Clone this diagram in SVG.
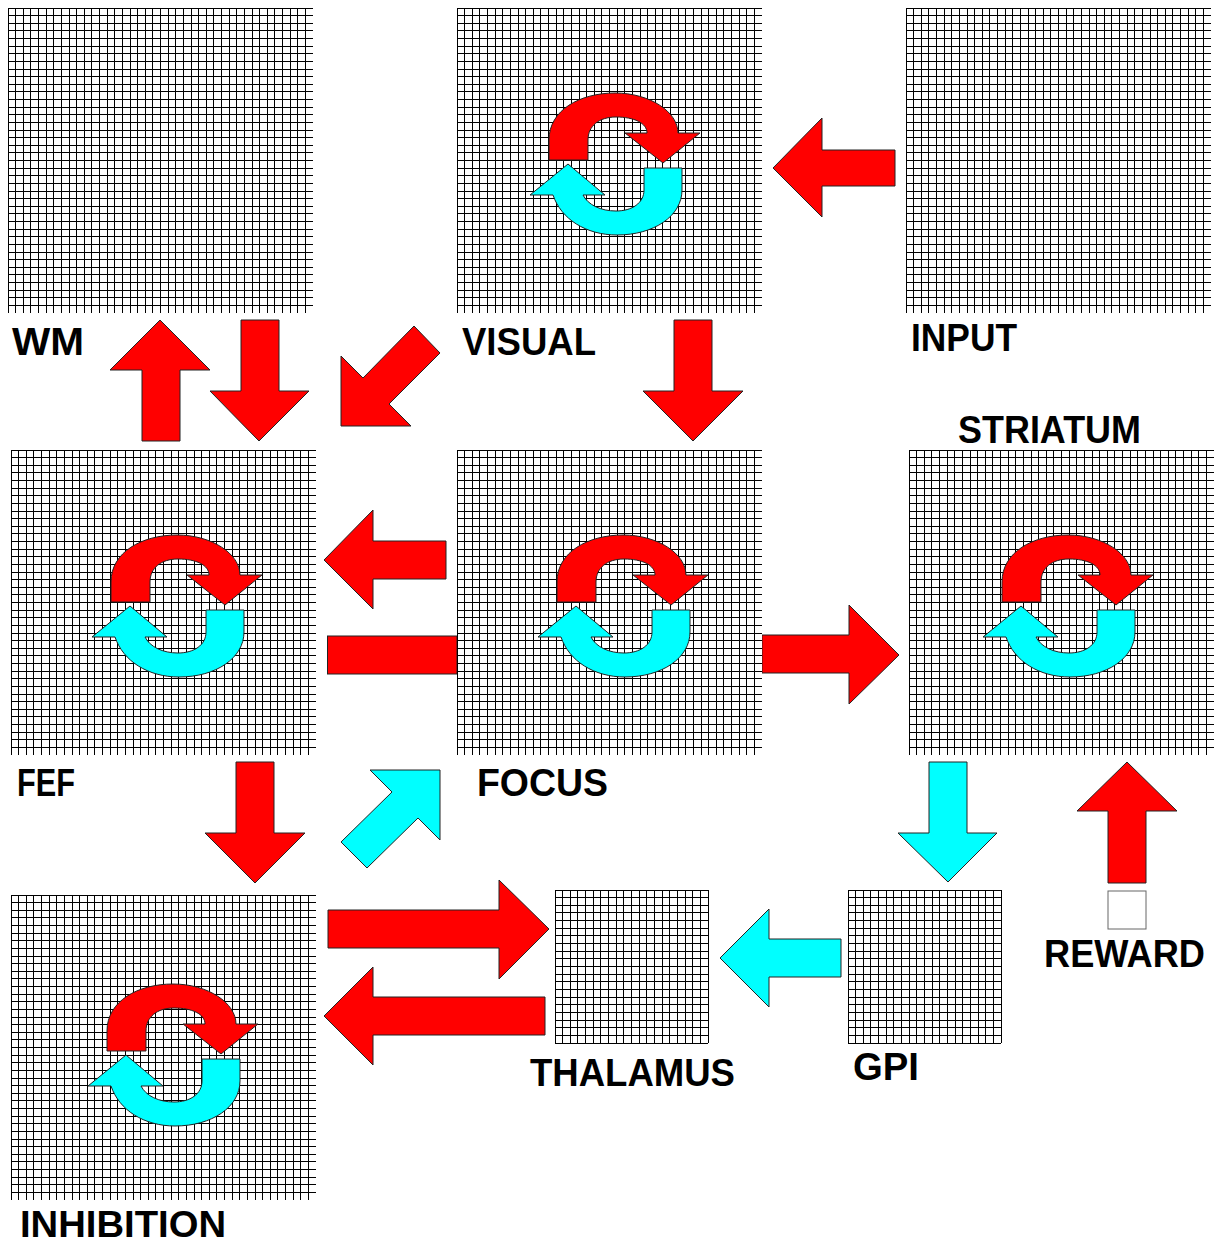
<svg xmlns="http://www.w3.org/2000/svg" xmlns:xlink="http://www.w3.org/1999/xlink" width="1215" height="1245" viewBox="0 0 1215 1245">
<style>
.gl{fill:none;stroke:#000;stroke-width:1;shape-rendering:crispEdges}
.bg{fill:#fff}
.r{fill:#ff0000;stroke:#222;stroke-width:1}
.c{fill:#00ffff;stroke:#222;stroke-width:1}
.lb{font-family:"Liberation Sans",Arial,sans-serif;font-weight:bold;font-size:38px;fill:#000}
</style>
<defs>
<g id="g40">
<rect class="bg" x="0" y="0" width="305" height="305"/>
<path class="gl" d="M0 0v305m7.625-305v305m7.625-305v305m7.625-305v305m7.625-305v305m7.625-305v305m7.625-305v305m7.625-305v305m7.625-305v305m7.625-305v305m7.625-305v305m7.625-305v305m7.625-305v305m7.625-305v305m7.625-305v305m7.625-305v305m7.625-305v305m7.625-305v305m7.625-305v305m7.625-305v305m7.625-305v305m7.625-305v305m7.625-305v305m7.625-305v305m7.625-305v305m7.625-305v305m7.625-305v305m7.625-305v305m7.625-305v305m7.625-305v305m7.625-305v305m7.625-305v305m7.625-305v305m7.625-305v305m7.625-305v305m7.625-305v305m7.625-305v305m7.625-305v305m7.625-305v305m7.625-305v305M0 0h305m-305 7.625h305m-305 7.625h305m-305 7.625h305m-305 7.625h305m-305 7.625h305m-305 7.625h305m-305 7.625h305m-305 7.625h305m-305 7.625h305m-305 7.625h305m-305 7.625h305m-305 7.625h305m-305 7.625h305m-305 7.625h305m-305 7.625h305m-305 7.625h305m-305 7.625h305m-305 7.625h305m-305 7.625h305m-305 7.625h305m-305 7.625h305m-305 7.625h305m-305 7.625h305m-305 7.625h305m-305 7.625h305m-305 7.625h305m-305 7.625h305m-305 7.625h305m-305 7.625h305m-305 7.625h305m-305 7.625h305m-305 7.625h305m-305 7.625h305m-305 7.625h305m-305 7.625h305m-305 7.625h305m-305 7.625h305m-305 7.625h305m-305 7.625h305"/>
</g>
<g id="g20">
<rect class="bg" x="0" y="0" width="153" height="153"/>
<path class="gl" d="M0 0v153m7.65-153v153m7.65-153v153m7.65-153v153m7.65-153v153m7.65-153v153m7.65-153v153m7.65-153v153m7.65-153v153m7.65-153v153m7.65-153v153m7.65-153v153m7.65-153v153m7.65-153v153m7.65-153v153m7.65-153v153m7.65-153v153m7.65-153v153m7.65-153v153m7.65-153v153m7.65-153v153M0 0h153m-153 7.65h153m-153 7.65h153m-153 7.65h153m-153 7.65h153m-153 7.65h153m-153 7.65h153m-153 7.65h153m-153 7.65h153m-153 7.65h153m-153 7.65h153m-153 7.65h153m-153 7.65h153m-153 7.65h153m-153 7.65h153m-153 7.65h153m-153 7.65h153m-153 7.65h153m-153 7.65h153m-153 7.65h153m-153 7.65h153"/>
</g>
<g id="cyc">
<path class="r" d="M549,160 L549,140 C549,110 580,93 615,93 C650,93 678,112 678,133 L700,133 L663,163 L625,133 L647,133 C647,123 634,117 616,117 C599,117 588,126 588,140 L588,160 Z"/>
<path class="c" d="M644,168 L682,168 L682,190 C682,216 654,235 617,235 C586,235 561,219 553,195 L530,195 L568,164 L605,195 L583,195 C588,205 601,211 616,211 C632,211 644,203 644,190 Z"/>
</g>
</defs>
<rect x="0" y="0" width="1215" height="1245" fill="#fff"/>

<g id="connectors">
<polygon id="input-visual" class="r" points="895,150 822,150 822,118 773,168 822,217 822,186 895,186"/>
<polygon id="fef-wm" class="r" points="142,441 142,370 110,370 160,320 210,370 180,370 180,441"/>
<polygon id="wm-fef" class="r" points="241,320 279,320 279,391 309,391 259,441 210,391 241,391"/>
<polygon id="visual-fef" class="r" points="341,426 341,356 363,378 414,326 440,353 389,404 411,426"/>
<polygon id="visual-focus" class="r" points="674,320 712,320 712,391 743,391 693,441 643,391 674,391"/>
<polygon id="focus-fef" class="r" points="446,541 373,541 373,510 324,560 373,609 373,579 446,579"/>
<rect id="fef-focus" class="r" x="327.5" y="636" width="129.5" height="38"/>
<polygon id="focus-striatum" class="r" points="762,635 849,635 849,605 899,655 849,704 849,673 762,673"/>
<polygon id="fef-inhibition" class="r" points="236,762 274,762 274,833 305,833 255,883 205,833 236,833"/>
<polygon id="inhibition-focus" class="c" points="440,770 440,840 418,818 367,868 341,842 392,792 370,770"/>
<polygon id="inhibition-thalamus" class="r" points="328,910 499,910 499,880 549,929 499,979 499,948 328,948"/>
<polygon id="thalamus-inhibition" class="r" points="545,997 373,997 373,967 324,1016 373,1065 373,1035 545,1035"/>
<polygon id="gpi-thalamus" class="c" points="841,939 769,939 769,909 720,958 769,1007 769,977 841,977"/>
<polygon id="striatum-gpi" class="c" points="929,762 967,762 967,833 997,833 948,882 898,833 929,833"/>
<polygon id="reward-striatum" class="r" points="1108,883 1108,811 1077,811 1127,762 1177,811 1146,811 1146,883"/>
</g>

<g id="wm">
<use xlink:href="#g40" x="8" y="8"/>
<text class="lb" x="12" y="355" textLength="72" lengthAdjust="spacingAndGlyphs">WM</text>
</g>
<g id="visual">
<use xlink:href="#g40" x="457" y="8"/>
<use xlink:href="#cyc"/>
<text class="lb" x="462" y="355" textLength="134" lengthAdjust="spacingAndGlyphs">VISUAL</text>
</g>
<g id="input">
<use xlink:href="#g40" x="906" y="8"/>
<text class="lb" x="911" y="351" textLength="106" lengthAdjust="spacingAndGlyphs">INPUT</text>
</g>
<g id="fef">
<use xlink:href="#g40" x="11" y="450"/>
<use xlink:href="#cyc" transform="translate(-438,442)"/>
<text class="lb" x="17" y="796" textLength="58" lengthAdjust="spacingAndGlyphs">FEF</text>
</g>
<g id="focus">
<use xlink:href="#g40" x="457" y="450"/>
<use xlink:href="#cyc" transform="translate(8,442)"/>
<text class="lb" x="477" y="796" textLength="131" lengthAdjust="spacingAndGlyphs">FOCUS</text>
</g>
<g id="striatum">
<use xlink:href="#g40" x="909" y="450"/>
<use xlink:href="#cyc" transform="translate(453,442)"/>
<text class="lb" x="958" y="443" textLength="183" lengthAdjust="spacingAndGlyphs">STRIATUM</text>
</g>
<g id="inhibition">
<use xlink:href="#g40" x="11" y="895"/>
<use xlink:href="#cyc" transform="translate(-442,891)"/>
<text class="lb" x="20" y="1237" style="font-size:36px" textLength="206" lengthAdjust="spacingAndGlyphs">INHIBITION</text>
</g>
<g id="thalamus">
<use xlink:href="#g20" x="555" y="890"/>
<text class="lb" x="530" y="1086" textLength="205" lengthAdjust="spacingAndGlyphs">THALAMUS</text>
</g>
<g id="gpi">
<use xlink:href="#g20" x="848" y="890"/>
<text class="lb" x="853" y="1080" textLength="66" lengthAdjust="spacingAndGlyphs">GPI</text>
</g>
<g id="reward">
<rect x="1108" y="891" width="38" height="38" fill="#fff" stroke="#666" stroke-width="1"/>
<text class="lb" x="1044" y="967" textLength="161" lengthAdjust="spacingAndGlyphs">REWARD</text>
</g>
</svg>
